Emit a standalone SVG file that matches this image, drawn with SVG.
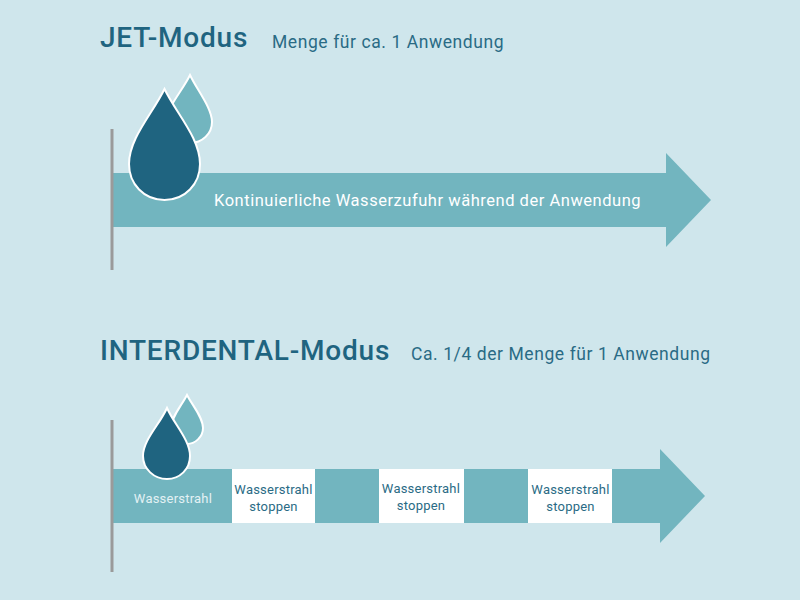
<svg xmlns="http://www.w3.org/2000/svg" width="800" height="600" viewBox="0 0 800 600">
<style>
text{font-family:"Roboto","Liberation Sans",sans-serif}
.h{font-size:28px;font-weight:500;fill:#1f6480;letter-spacing:.8px}
.s{font-size:17.5px;fill:#2a6b85;letter-spacing:.58px}
.w{font-size:16.5px;fill:#fff;letter-spacing:.53px}
.l{font-size:13px;fill:#2a6b85;text-anchor:middle;letter-spacing:.22px}
.a{fill:#72b5bf}
.d{fill:#1f6480;stroke:#fff;stroke-width:2}
.t{fill:#72b5bf;stroke:#fff;stroke-width:2}
.b{stroke:#9a9a9a;stroke-width:3;fill:none}
</style>
<rect width="800" height="600" fill="#cfe6ec"/>
<g id="connectors">
<path class="a" d="M113 173H666V153L711 200L666 247V227H113Z"/>
<path class="a" d="M113 469H660V449L705 496L660 543V523H113Z"/>
<path class="b" d="M112 129V270"/>
<path class="b" d="M112 420V572"/>
</g>
<g id="jet">
<text class="h" x="100" y="47">JET-Modus</text>
<text class="s" x="272" y="48">Menge für ca. 1 Anwendung</text>
<path class="t" d="M190 75C197 90 212 108 212 122C212 134 202 143 190 143C178 143 166 134 166 122C166 108 183 90 190 75Z"/>
<path class="d" d="M164.500 89C176 113 200 138 200 164C200 184 185 200 164.500 200C144 200 129 184 129 164C129 138 153 113 164.500 89Z"/>
<text class="w" x="214" y="206">Kontinuierliche Wasserzufuhr während der Anwendung</text>
</g>
<g id="interdental">
<text class="h" x="100" y="360">INTERDENTAL-Modus</text>
<text class="s" x="411" y="360">Ca. 1/4 der Menge für 1 Anwendung</text>
<path class="t" d="M187 395C192 405 203 417 203 428C203 437 195 444 187 444C178 444 171 437 171 428C171 417 182 405 187 395Z"/>
<path class="d" d="M167 408C174 424 190 440 190 456C190 469 180 479 167 479C154 479 143 469 143 456C143 440 160 424 167 408Z"/>
</g>
<g id="steps">
<text class="l" x="173" y="503" style="fill:#e3f1f4">Wasserstrahl</text>
<rect x="232" y="469" width="83" height="54" fill="#fff"/>
<rect x="379" y="469" width="85" height="54" fill="#fff"/>
<rect x="528" y="469" width="84" height="54" fill="#fff"/>
<text class="l" x="273.500" y="494">Wasserstrahl</text><text class="l" x="273.500" y="511">stoppen</text>
<text class="l" x="421" y="493">Wasserstrahl</text><text class="l" x="421" y="510">stoppen</text>
<text class="l" x="570.500" y="494">Wasserstrahl</text><text class="l" x="570.500" y="511">stoppen</text>
</g>
</svg>
